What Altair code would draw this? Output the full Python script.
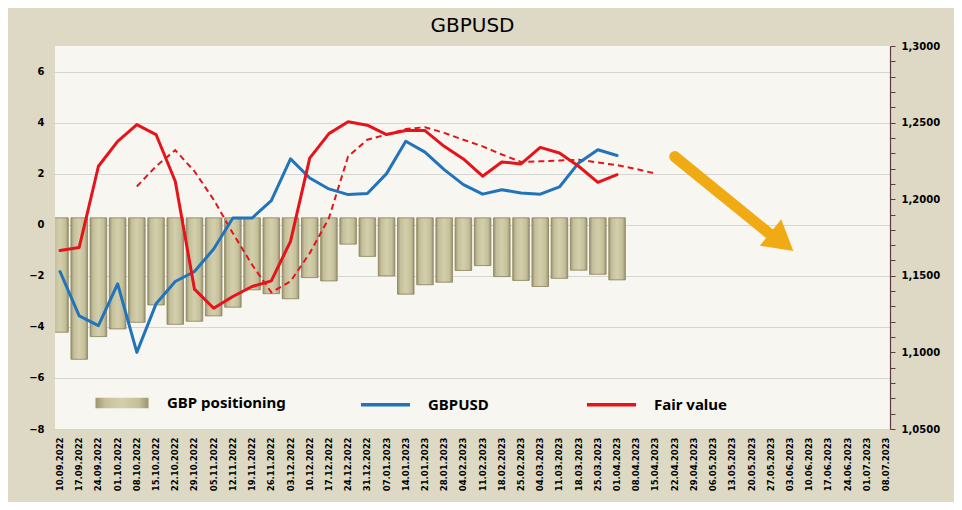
import altair as alt
import pandas as pd

# ---------------- data ----------------
dates = ["10.09.2022", "17.09.2022", "24.09.2022", "01.10.2022", "08.10.2022", "15.10.2022",
         "22.10.2022", "29.10.2022", "05.11.2022", "12.11.2022", "19.11.2022", "26.11.2022",
         "03.12.2022", "10.12.2022", "17.12.2022", "24.12.2022", "31.12.2022", "07.01.2023",
         "14.01.2023", "21.01.2023", "28.01.2023", "04.02.2023", "11.02.2023", "18.02.2023",
         "25.02.2023", "04.03.2023", "11.03.2023", "18.03.2023", "25.03.2023", "01.04.2023",
         "08.04.2023", "15.04.2023", "22.04.2023", "29.04.2023", "06.05.2023", "13.05.2023",
         "20.05.2023", "27.05.2023", "03.06.2023", "10.06.2023", "17.06.2023", "24.06.2023",
         "01.07.2023", "08.07.2023"]

positioning = [-4.21, -5.27, -4.38, -4.08, -3.82, -3.14, -3.90, -3.78, -3.57, -3.23,
               -2.55, -2.70, -2.90, -2.07, -2.20, -0.76, -1.24, -2.00, -2.72, -2.35,
               -2.25, -1.79, -1.60, -2.03, -2.18, -2.42, -2.10, -1.78, -1.94, -2.16]

gbpusd = [1.1528, 1.1238, 1.1175, 1.1448, 1.1000, 1.1317, 1.1463, 1.1528, 1.1675, 1.1877,
          1.1877, 1.1990, 1.2263, 1.2138, 1.2067, 1.2030, 1.2037, 1.2167, 1.2378, 1.2307,
          1.2193, 1.2095, 1.2033, 1.2062, 1.2040, 1.2033, 1.2080, 1.2237, 1.2323, 1.2285]

fair_value = [1.1665, 1.1685, 1.2215, 1.2378, 1.2487, 1.2422, 1.2117, 1.1413, 1.1288, 1.1365,
              1.1430, 1.1467, 1.1725, 1.2268, 1.2428, 1.2505, 1.2483, 1.2422, 1.2448, 1.2448,
              1.2345, 1.2263, 1.2150, 1.2243, 1.2230, 1.2338, 1.2302, 1.2215, 1.2110, 1.2160]

trend_start = 4  # dashed fair-value trend starts at 08.10.2022
trend = [1.2083, 1.2215, 1.2320, 1.2182, 1.1997, 1.1778, 1.1572, 1.1392, 1.1463, 1.1648,
         1.1877, 1.2280, 1.2388, 1.2422, 1.2458, 1.2470, 1.2433, 1.2388, 1.2345, 1.2292,
         1.2243, 1.2247, 1.2252, 1.2258, 1.2240, 1.2222, 1.2197, 1.2167]

arrow_dates = ["22.04.2023", "27.05.2023"]
arrow_prices = [1.2278, 1.1768]
arrow_head_date = ["03.06.2023"]
arrow_head_price = [1.1722]

left_ticks = [-8, -6, -4, -2, 0, 2, 4, 6]
right_ticks = [round(1.05 + 0.01 * k, 2) for k in range(26)]

# ---------------- tables ----------------
bars_df = pd.DataFrame({"date": dates[:len(positioning)], "value": positioning,
                        "lab": "GBP positioning"})
lines_df = pd.concat([
    pd.DataFrame({"date": dates[:len(gbpusd)], "price": gbpusd, "series": "GBPUSD"}),
    pd.DataFrame({"date": dates[:len(fair_value)], "price": fair_value, "series": "Fair value"}),
])
trend_df = pd.DataFrame({"date": dates[trend_start:trend_start + len(trend)], "price": trend})
arrow_df = pd.DataFrame({"date": arrow_dates, "price": arrow_prices})
head_df = pd.DataFrame({"date": arrow_head_date, "price": arrow_head_price})

# ---------------- styling ----------------
BG = "#DDD9C4"
PLOT = "#F7F6F1"
RED = "#E5141B"
BLUE = "#2274BA"
GOLD = "#F0AA14"
AXFONT = "DejaVu Sans"

x_scale = alt.Scale(domain=dates, range=[-4.6, 840.6], paddingInner=0.14, paddingOuter=0.07)
x_axis = alt.Axis(title=None, labelAngle=-90, labelAlign="right", labelBaseline="middle",
                  labelFont=AXFONT, labelFontWeight="bold", labelFontSize=8.5,
                  labelColor="black", labelPadding=8, ticks=False, domain=False,
                  labelOverlap=False, grid=False)


def X():
    return alt.X("date:N", scale=x_scale, axis=x_axis, sort=dates)


right_scale = alt.Scale(domain=[1.05, 1.30], nice=False, zero=False)
right_axis = alt.Axis(orient="right", title=None, values=right_ticks, grid=False,
                      labelExpr="abs(datum.value*20 - round(datum.value*20)) < 0.001 ? "
                                "replace(format(datum.value, '.4f'), '.', ',') : ''",
                      labelFont=AXFONT, labelFontWeight="bold", labelFontSize=10,
                      labelColor="black", labelPadding=6, tickSize=5,
                      tickColor="#5B3C3C", domainColor="#5B3C3C", domainWidth=1.2)


def YR():
    return alt.Y("price:Q", scale=right_scale, axis=right_axis)


bar_gradient = alt.Gradient(
    gradient="linear", x1=0, x2=1, y1=0, y2=0,
    stops=[alt.GradientStop(color="#9A9570", offset=0),
           alt.GradientStop(color="#C5C09A", offset=0.18),
           alt.GradientStop(color="#D3CFAD", offset=0.5),
           alt.GradientStop(color="#C5C09A", offset=0.82),
           alt.GradientStop(color="#9A9570", offset=1)])

bars = alt.Chart(bars_df).mark_bar(fill=bar_gradient, stroke="#86825B", strokeWidth=0.8,
                                   clip=True).encode(
    x=X(),
    y=alt.Y("value:Q", scale=alt.Scale(domain=[-8, 7], nice=False, zero=False),
            axis=alt.Axis(title=None, values=left_ticks, grid=True, gridColor="#D5D5D2",
                          gridWidth=1, ticks=False, domain=False, labelFont=AXFONT,
                          labelFontWeight="bold", labelFontSize=10, labelColor="black",
                          labelPadding=11)),
    y2=alt.datum(0.27),
    opacity=alt.Opacity("lab:N", scale=alt.Scale(domain=["GBP positioning"], range=[1]),
                        legend=alt.Legend(orient="none", legendX=40, legendY=330,
                                          title=None, padding=0,
                                          symbolType="M-1,-0.2H1V0.2H-1Z", symbolSize=2809,
                                          symbolFillColor="#A8A379", symbolStrokeColor="#8E8A63",
                                          symbolStrokeWidth=0.5, labelOffset=18,
                                          labelFont="Noto Sans", labelFontWeight="bold",
                                          labelFontSize=15, labelColor="black")),
)

trend_line = alt.Chart(trend_df).mark_line(color=RED, strokeWidth=2, strokeDash=[6, 4]).encode(
    x=X(), y=YR())

lines = alt.Chart(lines_df).mark_line(strokeWidth=3, strokeJoin="round", strokeCap="round").encode(
    x=X(), y=YR(),
    stroke=alt.Stroke("series:N",
                      scale=alt.Scale(domain=["GBPUSD", "Fair value"], range=[BLUE, RED]),
                      sort=["GBPUSD", "Fair value"],
                      legend=alt.Legend(orient="none", legendX=304, legendY=332, title=None,
                                        direction="horizontal", padding=0,
                                        symbolType="stroke", symbolSize=2401,
                                        symbolStrokeWidth=3.5, labelOffset=16,
                                        columnPadding=91, gridAlign="each",
                                        labelFont="Noto Sans", labelFontWeight="bold",
                                        labelFontSize=15, labelColor="black")),
)

arrow_line = alt.Chart(arrow_df).mark_line(color=GOLD, strokeWidth=11, strokeCap="round").encode(
    x=X(), y=YR())
arrow_head = alt.Chart(head_df).mark_point(shape="triangle-right", angle=39, size=1150,
                                           filled=True, fill=GOLD, opacity=1,
                                           xOffset=-8).encode(x=X(), y=YR())

right_layer = alt.layer(trend_line, lines, arrow_line, arrow_head)

chart = alt.layer(bars, right_layer).resolve_scale(y="independent").properties(
    width=835, height=383,
    title=alt.TitleParams("GBPUSD", font=AXFONT, fontSize=20, fontWeight="normal",
                          color="black", anchor="middle", offset=5),
    background=BG,
    padding={"left": 47, "top": 38, "right": 64, "bottom": 73},
    autosize=alt.AutoSizeParams(type="none"),
).configure_view(fill=PLOT, stroke=None)

chart.save("out.html", embed_options={"renderer": "svg", "actions": False})
